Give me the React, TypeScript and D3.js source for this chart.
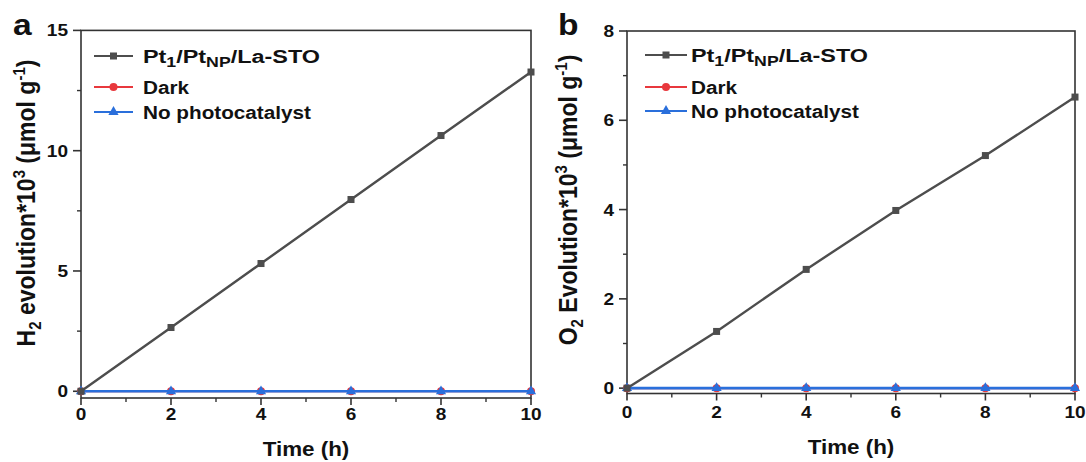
import React from "react";
import * as d3 from "d3";

const timeH = [0, 2, 4, 6, 8, 10];
const h2Pt = [0, 2.65, 5.31, 7.97, 10.63, 13.27];
const h2Dark = [0, 0, 0, 0, 0, 0];
const h2NoCat = [0, 0, 0, 0, 0, 0];
const o2Pt = [0, 1.27, 2.66, 3.98, 5.21, 6.52];
const o2Dark = [0, 0, 0, 0, 0, 0];
const o2NoCat = [0, 0, 0, 0, 0, 0];
const xTicks = [0, 2, 4, 6, 8, 10];
const xMinor = [1, 3, 5, 7, 9];
const aYTicks = [0, 5, 10, 15];
const aYMinor = [2.5, 7.5, 12.5];
const bYTicks = [0, 2, 4, 6, 8];
const bYMinor = [1, 3, 5, 7];

const FONT = "'Liberation Sans', Arial, sans-serif";
const SX = 1.12;
const AX = "#333";
const GRAY = "#4d4d4d";
const RED = "#e8383d";
const BLUE = "#2a6fdb";

function SText({ x, y, anchor = "start", fs, rot = false, len, children }: any) {
  return (
    <text
      transform={`translate(${x},${y}) scale(${SX},1)${rot ? " rotate(-90)" : ""}`}
      textAnchor={anchor}
      fontSize={fs}
      fontWeight="bold"
      fontFamily={FONT}
      fill="#111"
      textLength={len}
      lengthAdjust={len ? "spacingAndGlyphs" : undefined}
    >
      {children}
    </text>
  );
}

function Marker({ type, x, y, color }: any) {
  if (type === "square") return <rect x={x - 3.5} y={y - 3.5} width={7} height={7} fill={color} />;
  if (type === "circle") return <circle cx={x} cy={y} r={4} fill={color} />;
  const s = d3.symbol().type(d3.symbolTriangle).size(45)();
  return <path d={s as string} transform={`translate(${x},${y})`} fill={color} />;
}

function Panel({ cfg }: any) {
  const x = d3.scaleLinear().domain([0, 10]).range([cfg.left, cfg.right]);
  const y = d3.scaleLinear().domain(cfg.yDomain).range([cfg.bottom, cfg.top]);
  const line = d3
    .line<number>()
    .x((_, i) => x(timeH[i]))
    .y((d) => y(d));
  const series = [
    { vals: cfg.dark, color: RED, m: "circle", w: 2.2 },
    { vals: cfg.nocat, color: BLUE, m: "triangle", w: 2.6 },
    { vals: cfg.pt, color: GRAY, m: "square", w: 2.4 },
  ];
  const yTop = y(cfg.yDomain[1]);
  const lg = cfg.legend;
  const legendItems = [
    { color: GRAY, m: "square", len: 177 / SX, label: (
      <>
        Pt<tspan fontSize={14} dy={4}>1</tspan>
        <tspan dy={-4}>/Pt</tspan><tspan fontSize={14} dy={4}>NP</tspan>
        <tspan dy={-4}>/La-STO</tspan>
      </>
    ) },
    { color: RED, m: "circle", label: "Dark" },
    { color: BLUE, m: "triangle", label: "No photocatalyst" },
  ];
  return (
    <g>
      <rect
        x={cfg.left}
        y={yTop}
        width={cfg.right - cfg.left}
        height={cfg.bottom - yTop}
        fill="none"
        stroke={AX}
        strokeWidth={1.6}
      />
      {xTicks.map((t) => (
        <g key={"xt" + t}>
          <line x1={x(t)} x2={x(t)} y1={cfg.bottom} y2={cfg.bottom + 7} stroke={AX} strokeWidth={1.6} />
          <SText x={x(t)} y={cfg.xLabelY} anchor="middle" fs={17}>{t}</SText>
        </g>
      ))}
      {xMinor.map((t) => (
        <line key={"xm" + t} x1={x(t)} x2={x(t)} y1={cfg.bottom} y2={cfg.bottom + 4} stroke={AX} strokeWidth={1.4} />
      ))}
      {cfg.yTicks.map((t: number) => (
        <g key={"yt" + t}>
          <line x1={cfg.left - 8} x2={cfg.left} y1={y(t)} y2={y(t)} stroke={AX} strokeWidth={1.6} />
          <SText x={cfg.left - 13} y={y(t) + 6} anchor="end" fs={17}>{t}</SText>
        </g>
      ))}
      {cfg.yMinor.map((t: number) => (
        <line key={"ym" + t} x1={cfg.left - 4} x2={cfg.left} y1={y(t)} y2={y(t)} stroke={AX} strokeWidth={1.4} />
      ))}
      {series.map((s, si) => (
        <g key={"s" + si}>
          <path d={line(s.vals) as string} fill="none" stroke={s.color} strokeWidth={s.w} />
          {s.vals.map((v: number, i: number) => (
            <Marker key={i} type={s.m} x={x(timeH[i])} y={y(v)} color={s.color} />
          ))}
        </g>
      ))}
      {legendItems.map((it, i) => (
        <g key={"lg" + i}>
          <line x1={lg.x0} x2={lg.x1} y1={lg.ys[i]} y2={lg.ys[i]} stroke={it.color} strokeWidth={2.2} />
          <Marker type={it.m} x={(lg.x0 + lg.x1) / 2} y={lg.ys[i]} color={it.color} />
          <SText x={lg.tx} y={lg.ys[i] + 7} fs={18.5} len={it.len}>{it.label}</SText>
        </g>
      ))}
      <SText x={(cfg.left + cfg.right) / 2} y={cfg.titleY} anchor="middle" fs={20}>Time (h)</SText>
      <SText x={cfg.yLabelX} y={cfg.yLabelY} anchor="middle" fs={23} rot>{cfg.yLabel}</SText>
      <SText x={cfg.letterX} y={35} fs={30}>{cfg.letter}</SText>
    </g>
  );
}

const panelA = {
  left: 81, right: 531, top: 30.4, bottom: 398, yDomain: [-0.28, 15],
  yTicks: aYTicks, yMinor: aYMinor, pt: h2Pt, dark: h2Dark, nocat: h2NoCat,
  xLabelY: 420, titleY: 456, yLabelX: 35, yLabelY: 203, letterX: 13, letter: "a",
  legend: { x0: 94, x1: 133, tx: 143, ys: [56, 87, 112] },
  yLabel: (
    <>
      H<tspan fontSize={15} dy={5}>2</tspan>
      <tspan dy={-5}> evolution*10</tspan><tspan fontSize={15} dy={-9}>3</tspan>
      <tspan dy={9}> (μmol g</tspan><tspan fontSize={15} dy={-9}>-1</tspan>
      <tspan dy={9}>)</tspan>
    </>
  ),
};

const panelB = {
  left: 627, right: 1075, top: 31, bottom: 393.5, yDomain: [-0.12, 8],
  yTicks: bYTicks, yMinor: bYMinor, pt: o2Pt, dark: o2Dark, nocat: o2NoCat,
  xLabelY: 418, titleY: 454, yLabelX: 577, yLabelY: 200, letterX: 558, letter: "b",
  legend: { x0: 645, x1: 687, tx: 691, ys: [55, 87, 111] },
  yLabel: (
    <>
      O<tspan fontSize={15} dy={5}>2</tspan>
      <tspan dy={-5}> Evolution*10</tspan><tspan fontSize={15} dy={-9}>3</tspan>
      <tspan dy={9}> (μmol g</tspan><tspan fontSize={15} dy={-9}>-1</tspan>
      <tspan dy={9}>)</tspan>
    </>
  ),
};

export default function App() {
  return (
    <svg
      width={1086}
      height={462}
      style={{ position: "absolute", left: 0, top: 0, background: "#fff" }}
    >
      <rect width={1086} height={462} fill="#fff" />
      <Panel cfg={panelA} />
      <Panel cfg={panelB} />
    </svg>
  );
}
